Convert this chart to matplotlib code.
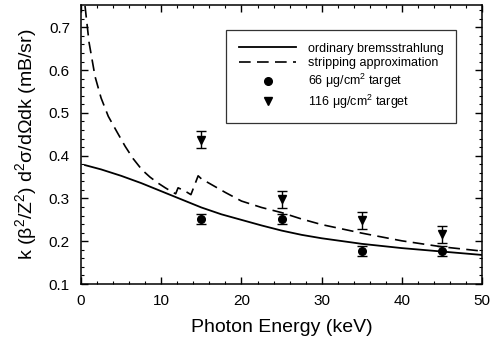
import matplotlib.pyplot as plt
from matplotlib.ticker import MultipleLocator
import numpy as np

plt.rcParams['font.family'] = ['Liberation Sans', 'DejaVu Sans']
plt.rcParams['mathtext.default'] = 'regular'

# ordinary bremsstrahlung curve
brems_k = [0.5, 2.5, 5, 7.5, 10, 12.5, 15, 17.5, 20, 22.5, 25, 27.5, 30, 35, 40, 45, 50]
brems_y = [0.378, 0.368, 0.353, 0.336, 0.317, 0.298, 0.279, 0.263, 0.250, 0.237,
           0.225, 0.215, 0.207, 0.194, 0.184, 0.176, 0.168]

# stripping approximation curve (with edge structure near 12-15 keV)
strip_k = [0.5, 1.0, 1.75, 2.5, 3.4, 4.5, 5.5, 6.5, 7.6, 8.6, 9.6, 10.5, 11.3, 11.8,
           12.1, 13.0, 13.7, 14.6, 15.0, 16.5, 18, 20, 22.5, 25, 27.5, 30, 35, 40, 45, 50]
strip_y = [0.75, 0.665, 0.585, 0.535, 0.492, 0.455, 0.422, 0.393, 0.367, 0.350, 0.336,
           0.325, 0.316, 0.311, 0.325, 0.317, 0.309, 0.353, 0.346, 0.330, 0.314, 0.294,
           0.279, 0.267, 0.252, 0.239, 0.219, 0.201, 0.187, 0.177]

# measured points
k_pts = [15, 25, 35, 45]
y66 = [0.252, 0.252, 0.178, 0.177]
e66 = [0.012, 0.012, 0.012, 0.012]
y116 = [0.437, 0.298, 0.249, 0.216]
e116 = [0.020, 0.020, 0.020, 0.020]

fig = plt.figure(figsize=(4.94, 3.41), dpi=100)
ax = fig.add_axes([0.164, 0.167, 0.812, 0.818])

ax.plot(brems_k, brems_y, color='black', lw=1.3, label='ordinary bremsstrahlung')
ax.plot(strip_k, strip_y, color='black', lw=1.2, dashes=(7, 3.8),
        label='stripping approximation')

# error bars drawn separately so the legend shows only the markers
ax.errorbar(k_pts, y66, yerr=e66, fmt='none', ecolor='black', capsize=3.5,
            elinewidth=1, capthick=1)
ax.errorbar(k_pts, y116, yerr=e116, fmt='none', ecolor='black', capsize=3.5,
            elinewidth=1, capthick=1)
ax.plot(k_pts, y66, 'o', color='black', ms=5.5, label='66 μg/cm$^2$ target')
ax.plot(k_pts, y116, 'v', color='black', ms=6, label='116 μg/cm$^2$ target')

ax.set_xlim(0, 50)
ax.set_ylim(0.1, 0.752)
ax.xaxis.set_major_locator(MultipleLocator(10))
ax.xaxis.set_minor_locator(MultipleLocator(2))
ax.yaxis.set_major_locator(MultipleLocator(0.1))
ax.yaxis.set_minor_locator(MultipleLocator(0.02))
ax.tick_params(which='both', direction='in', top=True, right=True, labelsize=11)
ax.tick_params(which='major', length=5, width=1)
ax.tick_params(which='minor', length=2.5, width=0.8)
ax.tick_params(axis='x', pad=7)
ax.tick_params(axis='y', pad=8)
for sp in ax.spines.values():
    sp.set_linewidth(1.1)

ax.set_xlabel('Photon Energy (keV)', fontsize=14, labelpad=8)
ax.set_ylabel('k (β$^2$/Z$^2$) d$^2$σ/dΩdk (mB/sr)', fontsize=14, labelpad=7)

leg = ax.legend(loc='upper right', bbox_to_anchor=(0.95, 0.932), fontsize=9,
                frameon=True, fancybox=False, edgecolor='black', handlelength=4.6,
                handletextpad=0.9, borderpad=1.0, labelspacing=0.2, numpoints=1)
leg.get_frame().set_linewidth(0.9)

fig.savefig('out.png', dpi=100)
